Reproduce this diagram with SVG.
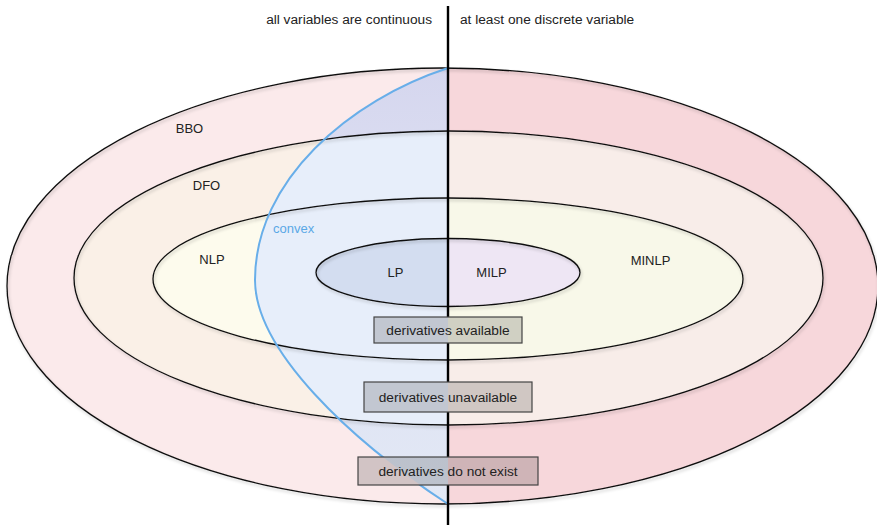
<svg xmlns="http://www.w3.org/2000/svg" width="877" height="525" viewBox="0 0 877 525">
<style>
text{font-family:"Liberation Sans",Arial,Helvetica,sans-serif;font-size:13px;fill:#222}
.mid{text-anchor:middle}
.big{font-size:13.7px}
.ring{fill:none;stroke:#111;stroke-width:1.3;filter:url(#sh)}
.box{fill:#000;fill-opacity:0.16;stroke:#444;stroke-width:1.2}
</style>
<defs>
<filter id="sh" x="-5%" y="-5%" width="110%" height="115%">
<feDropShadow dx="1" dy="2" stdDeviation="1.5" flood-color="#000" flood-opacity="0.22"/>
</filter>
<clipPath id="L"><rect x="0" y="0" width="448" height="525"/></clipPath>
<clipPath id="R"><rect x="448" y="0" width="429" height="525"/></clipPath>
<clipPath id="cB"><ellipse cx="442.5" cy="286" rx="435.5" ry="218"/></clipPath>
<clipPath id="cD"><ellipse cx="448.5" cy="278" rx="374.5" ry="147"/></clipPath>
<clipPath id="cN"><ellipse cx="448" cy="279" rx="295" ry="81"/></clipPath>
<path id="cvx" d="M448,68 C350,100 255,180 255,280 C255,350 350,440 448,504 Z"/>
<linearGradient id="gB" x1="0" y1="68" x2="0" y2="504" gradientUnits="userSpaceOnUse">
<stop offset="0" stop-color="#d5d6ee"/>
<stop offset="0.3" stop-color="#dcdff2"/>
<stop offset="1" stop-color="#e2e8f5"/>
</linearGradient>
<mask id="holes" maskUnits="userSpaceOnUse" x="0" y="0" width="877" height="525">
<rect x="0" y="0" width="877" height="525" fill="#fff"/>
<rect x="374" y="317" width="148" height="26" fill="#000"/>
<rect x="364" y="382" width="168" height="30" fill="#000"/>
<rect x="358" y="457" width="180" height="28" fill="#000"/>
</mask>
</defs>

<g id="bbo">
<ellipse cx="442.5" cy="286" rx="435.5" ry="218" fill="#fbeaeb" clip-path="url(#L)"/>
<ellipse cx="442.5" cy="286" rx="435.5" ry="218" fill="#f7d7db" clip-path="url(#R)"/>
<g clip-path="url(#cB)"><use href="#cvx" fill="url(#gB)"/></g>
<ellipse class="ring" cx="442.5" cy="286" rx="435.5" ry="218"/>
<text class="mid" x="189.5" y="133">BBO</text>
</g>

<g id="dfo">
<ellipse cx="448.5" cy="278" rx="374.5" ry="147" fill="#faf0e7" clip-path="url(#L)"/>
<ellipse cx="448.5" cy="278" rx="374.5" ry="147" fill="#f8ede9" clip-path="url(#R)"/>
<g clip-path="url(#cD)"><use href="#cvx" fill="#e7eefa"/></g>
<ellipse class="ring" cx="448.5" cy="278" rx="374.5" ry="147"/>
<text class="mid" x="206.5" y="190">DFO</text>
</g>

<g id="nlp">
<ellipse cx="448" cy="279" rx="295" ry="81" fill="#fdfbed" clip-path="url(#L)"/>
<ellipse cx="448" cy="279" rx="295" ry="81" fill="#f8f8e9" clip-path="url(#R)"/>
<g clip-path="url(#cN)"><use href="#cvx" fill="#e7eefa"/></g>
<ellipse class="ring" cx="448" cy="279" rx="295" ry="81"/>
<text class="mid" x="212" y="264">NLP</text>
<text class="mid" x="650.5" y="265">MINLP</text>
</g>

<g id="lp">
<ellipse cx="448" cy="272.5" rx="132" ry="34" fill="#d3ddf0" clip-path="url(#L)"/>
<ellipse cx="448" cy="272.5" rx="132" ry="34" fill="#eee6f4" clip-path="url(#R)"/>
<ellipse class="ring" cx="448" cy="272.5" rx="132" ry="34"/>
<text class="mid" x="395.5" y="277">LP</text>
<text class="mid" x="491.5" y="277">MILP</text>
</g>

<g id="convex">
<path d="M448,68 C350,100 255,180 255,280 C255,350 350,440 448,504" fill="none" stroke="#68aee9" stroke-width="2" mask="url(#holes)"/>
<text x="273" y="233" style="fill:#5aa8e6">convex</text>
</g>

<g id="connectors">
<line x1="448" y1="6" x2="448" y2="525" stroke="#000" stroke-width="2.4" mask="url(#holes)"/>
</g>

<g id="headers">
<text class="big" x="432" y="24" style="text-anchor:end">all variables are continuous</text>
<text class="big" x="460" y="24">at least one discrete variable</text>
</g>

<g id="box-available">
<rect class="box" x="374" y="317" width="148" height="26"/>
<text class="mid big" x="448" y="334.5">derivatives available</text>
</g>
<g id="box-unavailable">
<rect class="box" x="364" y="382" width="168" height="30"/>
<text class="mid big" x="448" y="401.5">derivatives unavailable</text>
</g>
<g id="box-notexist">
<rect class="box" x="358" y="457" width="180" height="28"/>
<text class="mid big" x="448" y="475.5">derivatives do not exist</text>
</g>
</svg>
